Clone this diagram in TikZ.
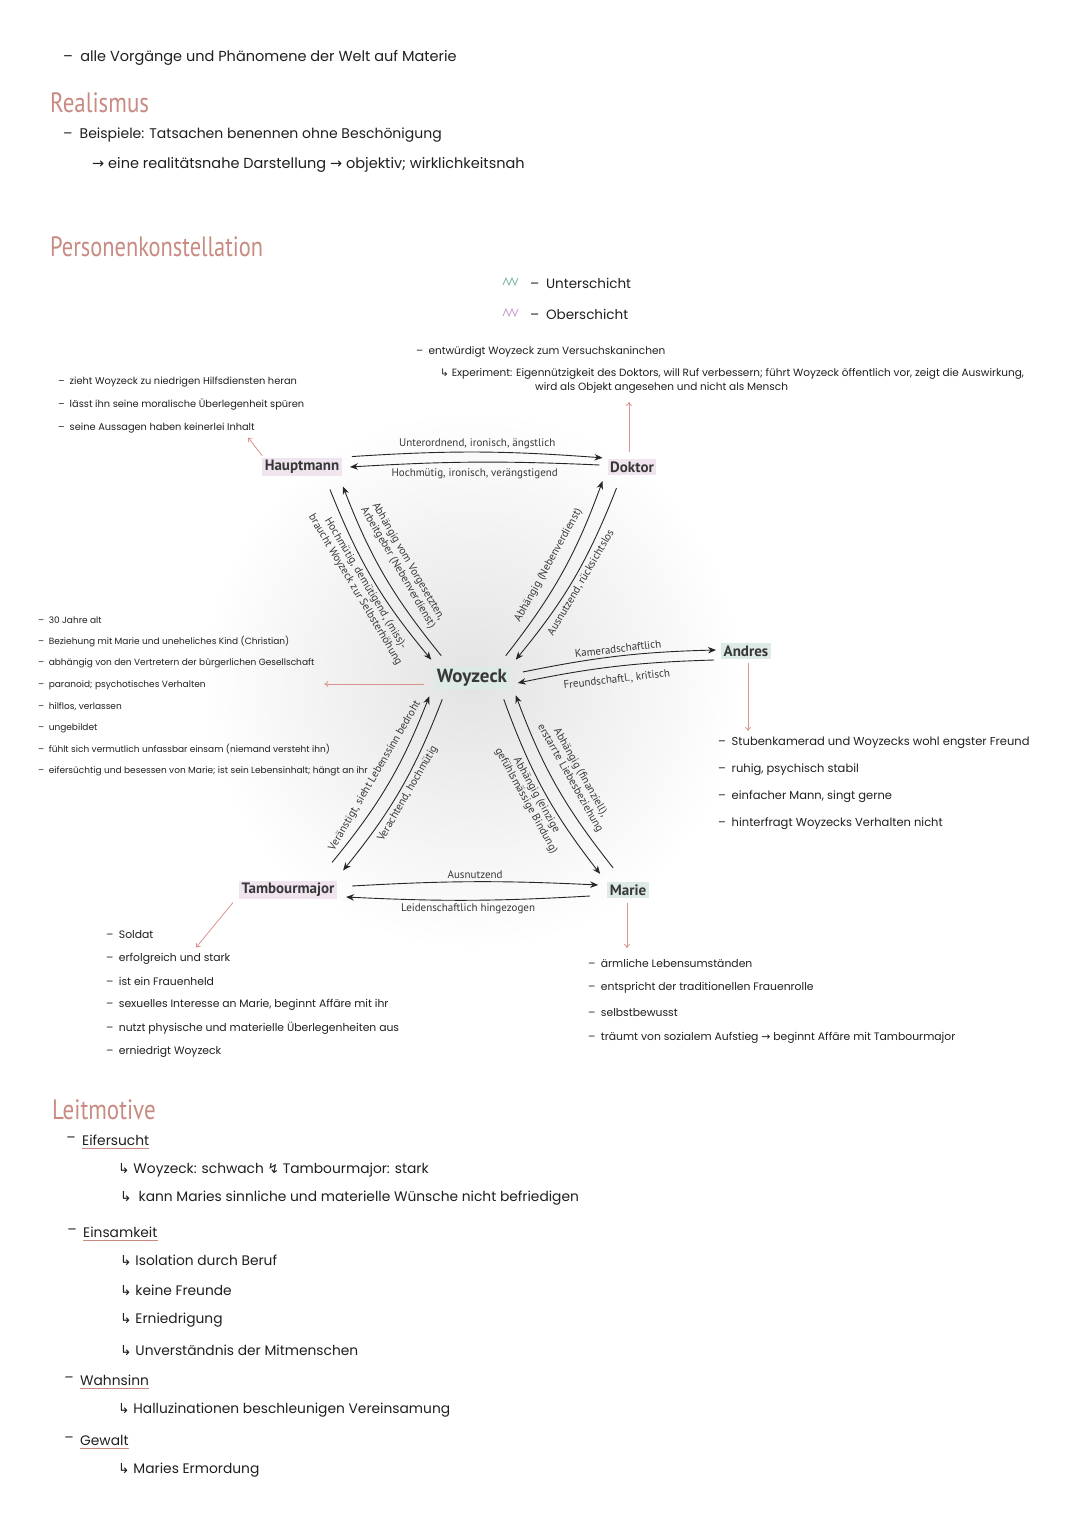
\documentclass[tikz,border=0pt]{standalone}
\usepackage{fontspec}
\setmainfont{PT Sans}
\newfontfamily\handfont{Poppins}
\newfontfamily\symfont{DejaVu Sans}
\usepackage{xcolor}
\usepackage{tikz}
\usetikzlibrary{arrows.meta}

\definecolor{rosa}{HTML}{C98A82}
\definecolor{rosahint}{HTML}{DA928C}
\definecolor{oberfill}{HTML}{F0E5EF}
\definecolor{unterfill}{HTML}{DDEAE6}
\definecolor{oberpen}{HTML}{C7A2CE}
\definecolor{unterpen}{HTML}{7DB7AC}

\newcommand{\haken}{{\symfont ↳}}
\newcommand{\pfeil}{{\symfont →}}
\newcommand{\strich}{\textendash\enspace}

\tikzset{
  person/.style={font=\bfseries\fontsize{15}{17}\selectfont, text=black!78, inner sep=2.5pt},
  ober/.style={person, fill=oberfill},
  unter/.style={person, fill=unterfill},
  rel/.style={-{Stealth[length=8pt,width=6.5pt]}, line width=0.9pt, black!85},
  elabel/.style={font=\fontsize{11}{12}\selectfont, text=black!78, inner sep=3pt, align=center},
  hint/.style={-{To[length=4pt,width=6pt]}, rosahint, line width=0.8pt},
  head/.style={font=\fontsize{28}{30}\selectfont, text=rosa, anchor=west, inner sep=0pt},
  note/.style={font=\handfont\fontsize{#1}{#1}\selectfont, anchor=west, inner sep=0pt, text=black!88},
  uline/.style={rosa, line width=0.8pt}
}

\begin{document}
\begin{tikzpicture}[x=1pt, y=1pt]
    \useasboundingbox (0,0) rectangle (1080,-1525);
    % Background glow
    \shade[inner color=black!11, outer color=white] (472,-680) circle (270);

    % Realismus
    \node[note=14.5] (t1) at (63,-58) {\strich alle Vorgänge und Phänomene der Welt auf Materie};
    \node[head] (h1) at (50,-103) {\scalebox{.82}[1]{Realismus}};
    \node[note=14] (r1) at (63,-135) {\strich Beispiele: Tatsachen benennen ohne Beschönigung};
    \node[note=14.5] (r2) at (92,-165) {\pfeil\ eine realitätsnahe Darstellung \pfeil\ objektiv; wirklichkeitsnah};

    % Personenkonstellation
    \node[head] (h2) at (50,-247) {\scalebox{.8}[1]{Personenkonstellation}};
    % Legend
    \draw[unterpen, line width=0.9pt] (503,-285) -- (506,-278) -- (509,-285) -- (512,-278) -- (515,-285) -- (518,-278);
    \node[note=13.5] (lu) at (530,-283) {\strich Unterschicht};
    \draw[oberpen, line width=0.9pt] (503,-316) -- (506,-309) -- (509,-316) -- (512,-309) -- (515,-316) -- (518,-309);
    \node[note=13.5] (lo) at (530,-314) {\strich Oberschicht};

    % Persons
    \node[ober] (hm) at (302,-467) {Hauptmann};
    \node[ober] (dr) at (632,-467) {Doktor};
    \node[unter, font=\bfseries\fontsize{19}{21}\selectfont] (wz) at (472,-678) {Woyzeck};
    \node[unter] (an) at (746,-651) {Andres};
    \node[ober] (tm) at (288,-890) {Tambourmajor};
    \node[unter] (ma) at (628,-890) {Marie};

    % Hauptmann - Doktor
    \draw[rel] ([shift={(10,1)}]hm.north east) to[bend left=4]
        node[elabel, above] (l1) {Unterordnend, ironisch, ängstlich} ([shift={(-5,1)}]dr.north west);
    \draw[rel] ([shift={(-8,2)}]dr.west) to[bend right=3]
        node[elabel, below=3pt] (l2) {Hochmütig, ironisch, verängstigend} ([shift={(8,0)}]hm.east);

    % Hauptmann - Woyzeck
    \draw[rel] ([shift={(7,11)}]wz.north west) to[bend left=9]
        node[elabel, sloped, above=7pt] (l3) {Abhängig vom Vorgesetzten,\\Arbeitgeber (Nebenverdienst)} ([shift={(1,-10)}]hm.south east);
    \draw[rel] ([shift={(-12,-13)}]hm.south east) to[bend right=9]
        node[elabel, sloped, below] (l4) {Hochmütig, demütigend, (miss)-\\braucht Woyzeck zur Selbsterhöhung} ([shift={(-3,7)}]wz.north west);

    % Doktor - Woyzeck
    \draw[rel] ([shift={(-4,11)}]wz.north east) to[bend right=9]
        node[elabel, sloped, above=7pt] (l5) {Abhängig (Nebenverdienst)} ([shift={(-5,-6)}]dr.south west);
    \draw[rel] ([shift={(9,-13)}]dr.south west) to[bend left=9]
        node[elabel, sloped, below] (l6) {Ausnutzend, rücksichtslos} ([shift={(6,7)}]wz.north east);

    % Woyzeck - Andres
    \draw[rel] ([shift={(13,6)}]wz.east) to[bend left=5]
        node[elabel, sloped, above] (l7) {Kameradschaftlich} ([shift={(-5,1)}]an.west);
    \draw[rel] ([shift={(-7,-9)}]an.west) to[bend right=5]
        node[elabel, sloped, below=5pt] (l8) {Freundschaftl., kritisch} ([shift={(8,-5)}]wz.east);

    % Woyzeck - Tambourmajor
    \draw[rel] ([shift={(-5,18)}]tm.north east) to[bend right=9]
        node[elabel, sloped, above=7pt] (l9) {Veränstigt, sieht Lebenssinn bedroht} ([shift={(-5,-7)}]wz.south west);
    \draw[rel] ([shift={(8,-10)}]wz.south west) to[bend left=9]
        node[elabel, sloped, below] (l10) {Verachtend, hochmütig} ([shift={(6,10)}]tm.north east);

    % Woyzeck - Marie
    \draw[rel] ([shift={(-6,-10)}]wz.south east) to[bend right=9]
        node[elabel, sloped, below] (l12) {Abhängig (einzige\\gefühlsmässige Bindung)} ([shift={(-7,8)}]ma.north west);
    \draw[rel] ([shift={(6,14)}]ma.north west) to[bend left=9]
        node[elabel, sloped, above=7pt] (l11) {Abhängig (finanziell),\\erstarrte Liebesbeziehung} ([shift={(6,-6)}]wz.south east);

    % Tambourmajor - Marie
    \draw[rel] ([shift={(15,4)}]tm.east) to[bend left=3]
        node[elabel, above] (l13) {Ausnutzend} ([shift={(-9,5)}]ma.west);
    \draw[rel] ([shift={(-17,-6)}]ma.west) to[bend left=3]
        node[elabel, below] (l14) {Leidenschaftlich hingezogen} ([shift={(9,-7)}]tm.east);

    % Hints to the notes
    \draw[hint] ([shift={(0,2)}]hm.north west) -- ++(-14,18);
    \draw[hint] ([shift={(-3,7)}]dr.north) -- ++(0,50);
    \draw[hint] ([shift={(-10,-6)}]wz.west) -- ++(-100,0);
    \draw[hint] ([shift={(2,-4)}]an.south) -- ++(0,-68);
    \draw[hint] ([shift={(-6,-3)}]tm.south west) -- ++(-37,-45);
    \draw[hint] ([shift={(-1,-5)}]ma.south) -- ++(0,-45);

    % Doktor notes
    \node[note=10.5] (dn1) at (416,-352) {\strich entwürdigt Woyzeck zum Versuchskaninchen};
    \node[note=10.5] (dn2) at (440,-374) {\haken\ Experiment: Eigennützigkeit des Doktors, will Ruf verbessern; führt Woyzeck öffentlich vor, zeigt die Auswirkung,};
    \node[note=10.5] (dn3) at (535,-388) {wird als Objekt angesehen und nicht als Mensch};

    % Hauptmann notes
    \foreach \t [count=\i from 0] in {{zieht Woyzeck zu niedrigen Hilfsdiensten heran}, {lässt ihn seine moralische Überlegenheit spüren}, {seine Aussagen haben keinerlei Inhalt}}
        \node[note=9.8] (hn\i) at (58,-382-23*\i) {\strich\t};

    % Woyzeck notes
    \foreach \t [count=\i from 0] in {{30 Jahre alt}, {Beziehung mit Marie und uneheliches Kind (Christian)}, {abhängig von den Vertretern der bürgerlichen Gesellschaft}, {paranoid; psychotisches Verhalten}, {hilflos, verlassen}, {ungebildet}, {fühlt sich vermutlich unfassbar einsam (niemand versteht ihn)}, {eifersüchtig und besessen von Marie; ist sein Lebensinhalt; hängt an ihr}}
        \node[note=9] (wn\i) at (38,-620-21.6*\i) {\strich\t};

    % Andres notes
    \foreach \t [count=\i from 0] in {{Stubenkamerad und Woyzecks wohl engster Freund}, {ruhig, psychisch stabil}, {einfacher Mann, singt gerne}, {hinterfragt Woyzecks Verhalten nicht}}
        \node[note=11.5] (anl\i) at (718,-743-27*\i) {\strich\t};

    % Tambourmajor notes
    \foreach \t [count=\i from 0] in {Soldat, {erfolgreich und stark}, {ist ein Frauenheld}, {sexuelles Interesse an Marie, beginnt Affäre mit ihr}, {nutzt physische und materielle Überlegenheiten aus}, {erniedrigt Woyzeck}}
        \node[note=10.8] (tn\i) at (106,-935-23.4*\i) {\strich\t};

    % Marie notes
    \foreach \t [count=\i from 0] in {{ärmliche Lebensumständen}, {entspricht der traditionellen Frauenrolle}, {selbstbewusst}, {träumt von sozialem Aufstieg \pfeil\ beginnt Affäre mit Tambourmajor}}
        \node[note=10.8] (mn\i) at (588,-963-25*\i) {\strich\t};

    % Leitmotive
    \node[head] (h3) at (52,-1110) {\scalebox{.82}[1]{Leitmotive}};
    \node[note=13.8, label={[note=13.8, anchor=east, xshift=-6pt]left:\textendash}] (m1) at (82,-1140) {Eifersucht};
    \node[note=13.8] (m1a) at (118,-1170) {\haken\ Woyzeck: schwach {\symfont ↯} Tambourmajor: stark};
    \node[note=13.8] (m1b) at (120,-1198) {\haken\enspace kann Maries sinnliche und materielle Wünsche nicht befriedigen};
    \node[note=13.8, label={[note=13.8, anchor=east, xshift=-6pt]left:\textendash}] (m2) at (83,-1232) {Einsamkeit};
    \foreach \t [count=\i from 0] in {{Isolation durch Beruf}, {keine Freunde}, {Erniedrigung}, {Unverständnis der Mitmenschen}}
        \node[note=13.8] (m2\i) at (120,-1260-30*\i) {\haken\ \t};
    \node[note=13.8, label={[note=13.8, anchor=east, xshift=-6pt]left:\textendash}] (m3) at (80,-1380) {Wahnsinn};
    \node[note=13.8] (m3a) at (118,-1410) {\haken\ Halluzinationen beschleunigen Vereinsamung};
    \node[note=13.8, label={[note=13.8, anchor=east, xshift=-6pt]left:\textendash}] (m4) at (80,-1440) {Gewalt};
    \node[note=13.8] (m4a) at (118,-1470) {\haken\ Maries Ermordung};
    % Underlines
    \foreach \n in {m1,m2,m3,m4}
        \draw[uline] ([yshift=-3pt]\n.south west) -- ([yshift=-3pt]\n.south east);
\end{tikzpicture}
\end{document}
